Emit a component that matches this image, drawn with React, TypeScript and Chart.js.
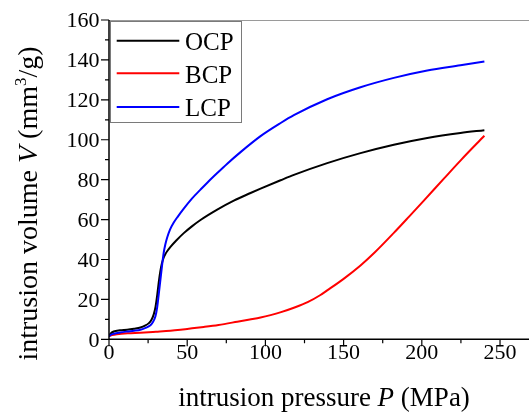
import React, { useEffect, useRef } from "react";
import { Chart, registerables } from "chart.js";

Chart.register(...registerables);

// ---- data ----
const SERIES_LABELS = ["OCP", "BCP", "LCP"];
const SERIES_COLORS = ["#000000", "#ff0000", "#0000ff"];

const OCP_P = [0, 1, 3, 7, 11.6, 16, 20.1, 23, 25.5, 27, 28.6, 29.8, 30.8, 31.8, 32.8, 33.8, 35, 36.1, 37.5, 39.3, 43, 47.8, 53, 58.5, 69.2, 79.8, 90.5, 96.9, 109.7, 118.2, 139.5, 160.8, 182.1, 203.5, 224.7, 240];
const OCP_V = [1.5, 2.8, 3.9, 4.5, 4.8, 5.3, 5.9, 6.8, 8.1, 9.5, 12.5, 16.5, 22, 28.5, 34, 38, 41, 42.8, 44.5, 46.3, 49.5, 53.2, 56.6, 59.8, 65, 69.5, 73.3, 75.5, 79.7, 82.4, 88.3, 93.3, 97.5, 100.9, 103.4, 104.8];

const BCP_P = [0, 2, 5, 12, 20, 30, 39.3, 45.7, 50, 60.6, 70, 82, 90, 96.9, 103.3, 110, 118.2, 127, 135.2, 139.5, 150, 160.8, 170, 182.1, 192, 201.3, 214.1, 225, 240];
const BCP_V = [1.6, 2.1, 2.5, 3.0, 3.3, 3.8, 4.3, 4.8, 5.2, 6.2, 7.2, 8.8, 9.9, 10.9, 12.1, 13.6, 15.8, 18.6, 22.2, 24.5, 30.3, 37.0, 43.6, 53.3, 61.6, 69.5, 80.5, 89.8, 102];

const LCP_P = [0, 1, 3.1, 7, 11.6, 16, 20.1, 23, 26.5, 28, 29.7, 30.8, 31.8, 32.9, 34, 35, 36, 37.2, 39, 41.4, 44, 47.8, 53, 58.5, 63, 69.2, 75.6, 84.1, 96.9, 110, 118.2, 139.5, 160.8, 182.1, 203.5, 224.7, 240];
const LCP_V = [1.5, 2.2, 2.8, 3.4, 3.9, 4.3, 4.8, 5.6, 7.0, 8.5, 11.5, 16, 22.5, 30, 37.5, 43.5, 47.5, 51, 55, 58.5, 61.5, 65.5, 70.5, 75, 78.6, 83.3, 88, 93.8, 101.8, 108.5, 112.3, 120.3, 126.3, 131, 134.7, 137.3, 139.2];

const X_TICKS = [0, 50, 100, 150, 200, 250];
const X_MINOR = [25, 75, 125, 175, 225];
const Y_TICKS = [0, 20, 40, 60, 80, 100, 120, 140, 160];
const Y_MINOR = [10, 30, 50, 70, 90, 110, 130, 150];
const X_MIN = 0;
const X_MAX = 270;
const Y_MIN = 0;
const Y_MAX = 160;

const SERIF = "'Liberation Serif', 'Times New Roman', serif";

function pts(xs: number[], ys: number[]) {
  return xs.map((x, i) => ({ x, y: ys[i] }));
}

type Seg = { text: string; font: string; dy?: number };

function drawRich(ctx: CanvasRenderingContext2D, segs: Seg[], cx: number, y: number) {
  let total = 0;
  const widths: number[] = [];
  for (const s of segs) {
    ctx.font = s.font;
    const w = ctx.measureText(s.text).width;
    widths.push(w);
    total += w;
  }
  let x = cx - total / 2;
  segs.forEach((s, i) => {
    ctx.font = s.font;
    ctx.fillText(s.text, x, y + (s.dy || 0));
    x += widths[i];
  });
}

const decorPlugin = {
  id: "decor",
  afterDraw(chart: any) {
    const ctx: CanvasRenderingContext2D = chart.ctx;
    const a = chart.chartArea;
    const xs = chart.scales.x;
    const ys = chart.scales.y;
    ctx.save();

    // top / right frame (gray)
    ctx.strokeStyle = "#9a9a9a";
    ctx.lineWidth = 1;
    ctx.beginPath();
    ctx.moveTo(a.left, a.top + 0.5);
    ctx.lineTo(a.right, a.top + 0.5);
    ctx.lineTo(a.right, a.bottom);
    ctx.stroke();

    // axes
    ctx.strokeStyle = "#000";
    ctx.lineWidth = 1.5;
    ctx.beginPath();
    ctx.moveTo(a.left, a.top);
    ctx.lineTo(a.left, a.bottom);
    ctx.lineTo(a.right, a.bottom);
    ctx.stroke();

    // ticks
    ctx.lineWidth = 1.2;
    ctx.beginPath();
    for (const v of X_TICKS) {
      const px = xs.getPixelForValue(v);
      ctx.moveTo(px, a.bottom);
      ctx.lineTo(px, a.bottom + 7);
    }
    for (const v of X_MINOR) {
      const px = xs.getPixelForValue(v);
      ctx.moveTo(px, a.bottom);
      ctx.lineTo(px, a.bottom + 4);
    }
    for (const v of Y_TICKS) {
      const py = ys.getPixelForValue(v);
      ctx.moveTo(a.left, py);
      ctx.lineTo(a.left - 8, py);
    }
    for (const v of Y_MINOR) {
      const py = ys.getPixelForValue(v);
      ctx.moveTo(a.left, py);
      ctx.lineTo(a.left - 4, py);
    }
    ctx.stroke();

    // tick labels
    ctx.fillStyle = "#000";
    ctx.font = `22px ${SERIF}`;
    ctx.textBaseline = "alphabetic";
    ctx.textAlign = "center";
    for (const v of X_TICKS) {
      ctx.fillText(String(v), xs.getPixelForValue(v), a.bottom + 19.5);
    }
    ctx.textAlign = "right";
    for (const v of Y_TICKS) {
      ctx.fillText(String(v), a.left - 9.5, ys.getPixelForValue(v) + 7.3);
    }

    // axis titles
    ctx.textAlign = "left";
    const f = `27px ${SERIF}`;
    const fi = `italic 27px ${SERIF}`;
    drawRich(
      ctx,
      [
        { text: "intrusion pressure ", font: f },
        { text: "P", font: fi },
        { text: " (MPa)", font: f },
      ],
      324,
      406
    );
    const fy = `28px ${SERIF}`;
    const fyi = `italic 28px ${SERIF}`;
    ctx.save();
    ctx.translate(37, 203.5);
    ctx.rotate(-Math.PI / 2);
    drawRich(
      ctx,
      [
        { text: "intrusion volume ", font: fy },
        { text: "V", font: fyi },
        { text: " (mm", font: fy },
        { text: "3", font: `17px ${SERIF}`, dy: -11 },
        { text: "/g)", font: fy },
      ],
      0,
      0
    );
    ctx.restore();

    // legend
    const bx = 110.5, by = 21.5, bw = 131, bh = 101;
    ctx.fillStyle = "#fff";
    ctx.fillRect(bx, by, bw, bh);
    ctx.strokeStyle = "#7a7a7a";
    ctx.lineWidth = 1;
    ctx.strokeRect(bx, by, bw, bh);
    const rowsY = [40.7, 73.3, 107];
    chart.data.datasets.forEach((ds: any, i: number) => {
      const ly = rowsY[i];
      ctx.strokeStyle = ds.borderColor;
      ctx.lineWidth = 2;
      ctx.beginPath();
      ctx.moveTo(116.7, ly);
      ctx.lineTo(179.3, ly);
      ctx.stroke();
      ctx.fillStyle = "#000";
      ctx.font = `25px ${SERIF}`;
      ctx.textAlign = "left";
      ctx.fillText(ds.label, 185, ly + 9.3);
    });

    ctx.restore();
  },
};

export default function App() {
  const ref = useRef<HTMLCanvasElement | null>(null);

  useEffect(() => {
    if (!ref.current) return;
    const series = [pts(OCP_P, OCP_V), pts(BCP_P, BCP_V), pts(LCP_P, LCP_V)];
    const orders = [1, 2, 0];
    const chart = new Chart(ref.current, {
      type: "line",
      data: {
        datasets: series.map((d, i) => ({
          label: SERIES_LABELS[i],
          data: d,
          borderColor: SERIES_COLORS[i],
          backgroundColor: SERIES_COLORS[i],
          borderWidth: 2,
          pointRadius: 0,
          cubicInterpolationMode: "monotone" as const,
          fill: false,
          order: orders[i],
        })),
      },
      options: {
        animation: false,
        responsive: false,
        maintainAspectRatio: false,
        layout: { padding: { left: 0, top: 20, right: 9.7, bottom: 0 } },
        plugins: { legend: { display: false }, tooltip: { enabled: false }, title: { display: false } },
        scales: {
          x: {
            type: "linear",
            min: X_MIN,
            max: X_MAX,
            grid: { display: false },
            border: { display: false },
            ticks: { display: false },
            afterFit: (s: any) => {
              s.height = 73.7;
            },
          },
          y: {
            type: "linear",
            min: Y_MIN,
            max: Y_MAX,
            grid: { display: false },
            border: { display: false },
            ticks: { display: false },
            afterFit: (s: any) => {
              s.width = 109;
            },
          },
        },
      },
      plugins: [decorPlugin],
    });
    return () => chart.destroy();
  }, []);

  return (
    <div
      style={{
        position: "fixed",
        left: 0,
        top: 0,
        width: 529,
        height: 413,
        overflow: "hidden",
        background: "#fff",
      }}
    >
      <canvas ref={ref} width={541} height={413} style={{ width: 541, height: 413, display: "block" }} />
    </div>
  );
}
